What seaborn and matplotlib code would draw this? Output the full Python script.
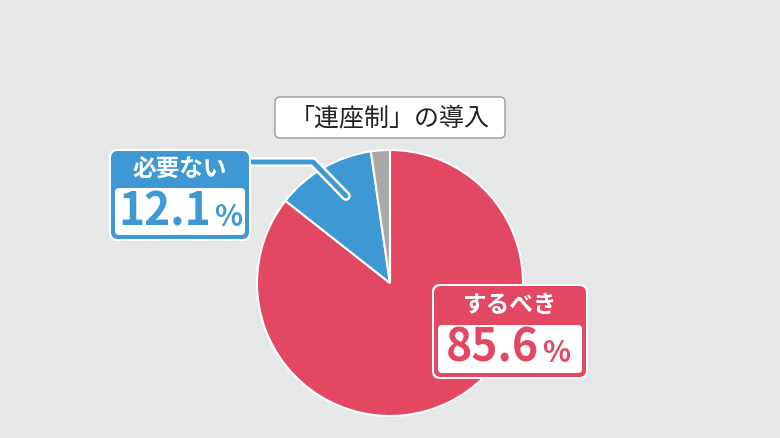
import matplotlib
matplotlib.use("Agg")
import matplotlib.pyplot as plt
from matplotlib.patches import FancyBboxPatch
import seaborn as sns

W, H = 780, 438

labels  = ["するべき", "必要ない", "その他"]
values  = [85.6, 12.1, 2.3]
colors  = ["#e24862", "#3e98d4", "#a9a9a9"]
title   = "「連座制」の導入"

sns.set_theme(style="white")
plt.rcParams["font.family"] = ["Noto Sans CJK JP", "DejaVu Sans"]

fig = plt.figure(figsize=(W / 100, H / 100), dpi=100)
fig.patch.set_facecolor("#e5e7e9")
ax = fig.add_axes([0, 0, 1, 1])
ax.set_facecolor("#e5e7e9")


def Y(y):
    return H - y


ax.pie(values, colors=colors, startangle=90, counterclock=False,
       center=(390, Y(283)), radius=133,
       wedgeprops=dict(edgecolor="white", linewidth=1.5))
ax.set_xlim(0, W)
ax.set_ylim(0, H)
ax.set_aspect("equal")
ax.axis("off")


def rbox(x0, y0, x1, y1, fc, ec="none", lw=0, r=6, z=3):
    p = FancyBboxPatch((x0, Y(y1)), x1 - x0, y1 - y0,
                       boxstyle=f"round,pad=0,rounding_size={r}",
                       fc=fc, ec=ec, lw=lw, zorder=z)
    ax.add_patch(p)


# title box
rbox(275, 97, 505, 138, "white", ec="#9a9a9a", lw=1.0, r=5)
ax.text(390, Y(118), title, ha="center", va="center", fontsize=18,
        color="#222222", zorder=5)

# leader line for blue label
lx = [248, 313, 346]
ly = [Y(162), Y(162), Y(196)]
ax.plot(lx, ly, color="white", lw=7, solid_capstyle="round",
        solid_joinstyle="round", zorder=2)
ax.plot(lx, ly, color=colors[1], lw=3.5, solid_capstyle="round",
        solid_joinstyle="round", zorder=2)

# blue label
rbox(109, 149, 251, 241, "white", r=8, z=3)
rbox(111, 151, 249, 239, colors[1], r=7, z=3)
rbox(115, 188, 245, 235, "white", r=4, z=4)
ax.text(180, Y(170), labels[1], ha="center", va="center", fontsize=17,
        fontweight="bold", color="white", zorder=5)
ax.text(211, Y(213), f"{values[1]:.1f}", ha="right", va="center",
        fontsize=32, fontweight="bold", color=colors[1], zorder=5)
ax.text(214, Y(217), "%", ha="left", va="center",
        fontsize=21, fontweight="bold", color=colors[1], zorder=5)

# red label
rbox(432, 284, 588, 379, "white", r=8, z=3)
rbox(434, 286, 586, 377, colors[0], r=7, z=3)
rbox(438, 325, 582, 373, "white", r=4, z=4)
ax.text(510, Y(305), labels[0], ha="center", va="center", fontsize=17,
        fontweight="bold", color="white", zorder=5)
ax.text(539, Y(349), f"{values[0]:.1f}", ha="right", va="center",
        fontsize=32, fontweight="bold", color=colors[0], zorder=5)
ax.text(542, Y(353), "%", ha="left", va="center",
        fontsize=21, fontweight="bold", color=colors[0], zorder=5)

fig.savefig("out.png", dpi=100, facecolor=fig.get_facecolor())
